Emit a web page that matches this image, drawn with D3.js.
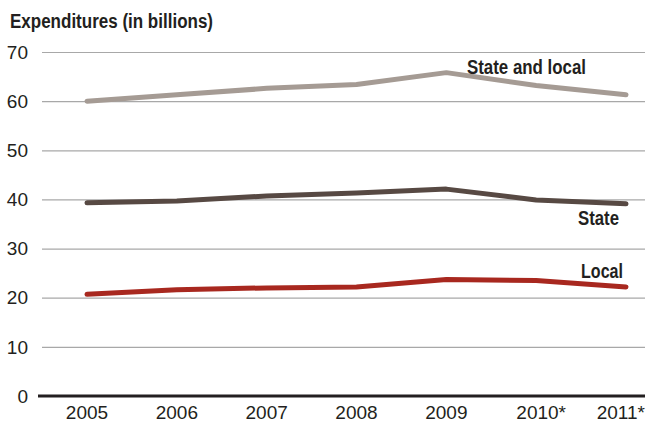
<!DOCTYPE html>
<html>
<head>
<meta charset="utf-8">
<script src="https://cdn.jsdelivr.net/npm/d3@7"></script>
<style>
  body { margin: 0; background: #fff; }
  svg { font-family: "Liberation Sans", Arial, sans-serif; }
  .grid line { stroke: #a8a8a8; stroke-width: 1.2; }
  .grid path { display: none; }
  .line { fill: none; stroke-width: 5; stroke-linecap: round; stroke-linejoin: round; }
</style>
</head>
<body>
<div id="grafico"></div>
<script>
var years = ["2005", "2006", "2007", "2008", "2009", "2010*", "2011*"];
var stateAndLocal = [60.0, 61.3, 62.6, 63.4, 65.8, 63.2, 61.3];
var state = [39.3, 39.7, 40.7, 41.3, 42.1, 39.9, 39.1];
var local = [20.7, 21.6, 22.0, 22.2, 23.7, 23.5, 22.2];
var yTicks = [0, 10, 20, 30, 40, 50, 60, 70];

var series = [
  {name: "State and local", values: stateAndLocal, color: "#a59b94", lx: 467, ly: 74, w: 119},
  {name: "State", values: state, color: "#574943", lx: 578, ly: 225, w: 41},
  {name: "Local", values: local, color: "#a8281f", lx: 581, ly: 278, w: 42}
];

// dimensions
var margin = {top: 52, right: 3, bottom: 28, left: 42},
    width = 648 - margin.left - margin.right,
    height = 424 - margin.top - margin.bottom;

var svg = d3.select("#grafico").append("svg")
    .attr("width", 648)
    .attr("height", 424)
  .append("g")
    .attr("transform", "translate(" + margin.left + "," + margin.top + ")");

var x = d3.scalePoint().domain(years).range([45, 584]);
var y = d3.scaleLinear().domain([0, 70]).range([height, 0]);

// gridlines
svg.append("g")
    .attr("class", "grid")
    .call(d3.axisLeft(y).tickValues(yTicks.slice(1)).tickSize(-width).tickFormat(""));

// y tick labels
svg.selectAll(".ylab")
  .data(yTicks)
  .enter().append("text")
    .attr("class", "ylab")
    .attr("x", -14)
    .attr("y", function(d) { return y(d); })
    .attr("dy", "0.35em")
    .attr("text-anchor", "end")
    .style("font-size", "19px")
    .style("fill", "#231f20")
    .text(function(d) { return d; });

// zero axis
svg.append("line")
    .attr("x1", -4).attr("x2", width)
    .attr("y1", y(0)).attr("y2", y(0))
    .style("stroke", "#231f20")
    .style("stroke-width", 3);

// x labels
var last = years.length - 1;
svg.selectAll(".xlab")
  .data(years)
  .enter().append("text")
    .attr("class", "xlab")
    .attr("x", function(d, i) { return i == last ? width : x(d) + (d.indexOf("*") > 0 ? 5 : 0); })
    .attr("y", height + 23)
    .attr("text-anchor", function(d, i) { return i == last ? "end" : "middle"; })
    .style("font-size", "19px")
    .style("fill", "#231f20")
    .text(function(d) { return d; });

var valueline = d3.line()
    .x(function(d, i) { return x(years[i]); })
    .y(function(d) { return y(d); });

svg.selectAll(".line")
  .data(series)
  .enter().append("path")
    .attr("class", "line")
    .attr("d", function(d) { return valueline(d.values); })
    .style("stroke", function(d) { return d.color; });

// series labels
svg.selectAll(".slab")
  .data(series)
  .enter().append("text")
    .attr("class", "slab")
    .attr("x", function(d) { return d.lx - margin.left; })
    .attr("y", function(d) { return d.ly - margin.top; })
    .attr("textLength", function(d) { return d.w; })
    .attr("lengthAdjust", "spacingAndGlyphs")
    .style("font-size", "20px")
    .style("font-weight", "bold")
    .style("fill", "#231f20")
    .text(function(d) { return d.name; });

// title
d3.select("svg").append("text")
    .attr("x", 10)
    .attr("y", 28)
    .attr("textLength", 203)
    .attr("lengthAdjust", "spacingAndGlyphs")
    .style("font-size", "20px")
    .style("font-weight", "bold")
    .style("fill", "#231f20")
    .text("Expenditures (in billions)");
</script>
</body>
</html>
